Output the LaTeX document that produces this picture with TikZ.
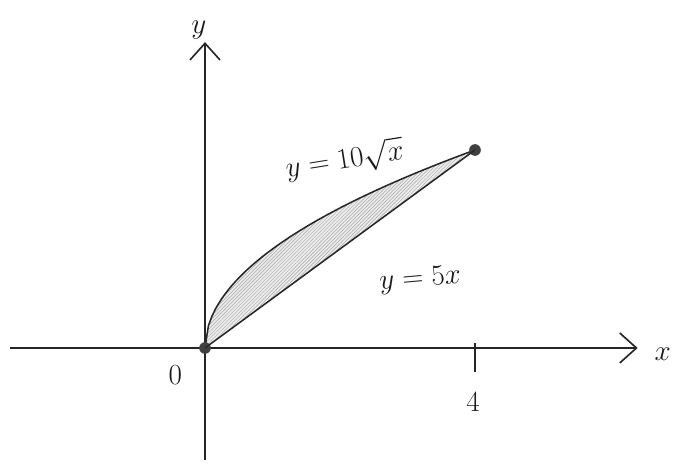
\documentclass[tikz,border=0pt]{standalone}
\usepackage{amsmath}
\usepackage{tikz}
\usetikzlibrary{positioning, arrows.meta, patterns}

\begin{document}
\begin{tikzpicture}[
    x=2.025cm, y=0.297cm,
    axis/.style={draw=black!85, line width=1.4pt, -{Straight Barb[length=5mm, width=9mm, line width=1.4pt]}},
    curve/.style={draw=black!85, line width=1.3pt},
    lbl/.style={font=\fontsize{27}{29}\selectfont, text=black!90},
    dot/.style={circle, fill=black!75, inner sep=0pt, minimum size=3.5mm},
]
\useasboundingbox (-3.037,-11.72) rectangle (7.2,35.15);
% axes
\coordinate (xl) at (-2.89,0);
\coordinate (xr) at (6.41,0);
\coordinate (yb) at (0,-11.3);
\coordinate (yt) at (0,30.9);
\draw[axis] (xl) -- (xr);
\draw[axis] (yb) -- (yt);
\node[lbl] (xlab) at (6.78,-0.6) {$x$};
\node[lbl] (ylab) at (-0.09,32.1) {$y$};
% shaded region
\fill[black!7] plot[domain=0:4, samples=60] (\x,{10*sqrt(\x)}) -- (0,0) -- cycle;
\fill[pattern=north east lines, pattern color=black!35] plot[domain=0:4, samples=60] (\x,{10*sqrt(\x)}) -- (0,0) -- cycle;
% curves
\draw[curve] plot[domain=0:4, samples=80] (\x,{10*sqrt(\x)});
\node[dot] (o) at (0,0) {};
\node[dot] (p) at (4,20) {};
\draw[curve] (o.center) -- (p.center);
% ticks and labels
\coordinate (t4) at (4,0.5);
\coordinate (b4) at (4,-2.4);
\draw[curve] (t4) -- (b4);
\node[lbl] (four) at (3.97,-5.45) {$4$};
\node[lbl] (zero) at (-0.44,-2.7) {$0$};
\node[lbl, rotate=9] (top) at (2.07,19.0) {$y=10\sqrt{x}$};
\node[lbl, rotate=5] (low) at (3.19,6.9) {$y=5x$};
\end{tikzpicture}
\end{document}
